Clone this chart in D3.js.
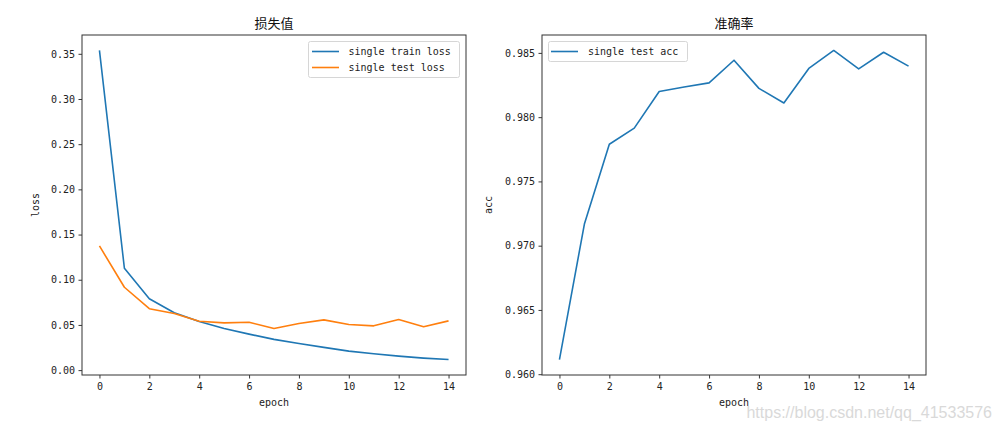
<!DOCTYPE html>
<html><head><meta charset="utf-8">
<script src="https://cdn.jsdelivr.net/npm/d3@7/dist/d3.min.js"></script>
<style>
html,body{margin:0;padding:0;background:#fff;}
svg{display:block;}
</style></head>
<body>
<svg id="chart" width="1002" height="431"></svg>
<script>
const epochs = [0,1,2,3,4,5,6,7,8,9,10,11,12,13,14];
const trainLoss = [0.3537,0.1127,0.0790,0.0635,0.0537,0.0460,0.0398,0.0340,0.0294,0.0252,0.0210,0.0182,0.0155,0.0133,0.0117];
const testLoss = [0.1374,0.0917,0.0680,0.0626,0.0540,0.0523,0.0530,0.0460,0.0515,0.0556,0.0504,0.0490,0.0560,0.0480,0.0545];
const testAcc = [0.96114,0.97168,0.97789,0.97915,0.98200,0.98235,0.98267,0.98443,0.98224,0.98110,0.98379,0.98519,0.98376,0.98505,0.98397];
const xTicks = [0,2,4,6,8,10,12,14];
const lossTicks = [0.00,0.05,0.10,0.15,0.20,0.25,0.30,0.35];
const accTicks = [0.960,0.965,0.970,0.975,0.980,0.985];
const titles = ["损失值","准确率"];
const lossLegend = ["single train loss","single test loss"];
const accLegend = ["single test acc"];
const BLUE = "#1f77b4", ORANGE = "#ff7f0e";

const svg = d3.select("#chart");
const monoFont = "'DejaVu Sans Mono','Liberation Mono',monospace";
const cjkFont = "'Noto Sans CJK SC','Noto Sans',sans-serif";

function pad(ext){ const r = ext[1]-ext[0]; return [ext[0]-0.05*r, ext[1]+0.05*r]; }

function panel(opt){
  const g = svg.append("g");
  const x = d3.scaleLinear().domain(pad([0,14])).range([opt.left, opt.right]);
  const allY = [].concat(...opt.series.map(s=>s.values));
  const y = d3.scaleLinear().domain(pad(d3.extent(allY))).range([opt.bottom, opt.top]);

  // lines
  const clipId = "clip"+opt.id;
  svg.append("clipPath").attr("id",clipId).append("rect")
    .attr("x",opt.left).attr("y",opt.top).attr("width",opt.right-opt.left).attr("height",opt.bottom-opt.top);
  const line = d3.line().x((d,i)=>x(epochs[i])).y(d=>y(d));
  opt.series.forEach(s=>{
    g.append("path").attr("d",line(s.values)).attr("fill","none")
      .attr("stroke",s.color).attr("stroke-width",1.6).attr("stroke-linejoin","round")
      .attr("clip-path",`url(#${clipId})`);
  });

  // axes
  const xAxis = d3.axisBottom(x).tickValues(xTicks).tickSize(3.5).tickPadding(4).tickFormat(d3.format("d"));
  const gx = g.append("g").attr("transform",`translate(0,${opt.bottom})`).call(xAxis);
  const yAxis = d3.axisLeft(y).tickValues(opt.yTicks).tickSize(3.5).tickPadding(3.5).tickFormat(d3.format(opt.fmt));
  const gy = g.append("g").attr("transform",`translate(${opt.left},0)`).call(yAxis);
  [gx,gy].forEach(a=>{
    a.select(".domain").remove();
    a.selectAll(".tick line").attr("stroke","#222").attr("stroke-width",0.9);
    a.selectAll(".tick text").attr("fill","#222").style("font-family",monoFont).style("font-size","10px");
  });

  // frame
  g.append("rect").attr("x",opt.left).attr("y",opt.top)
    .attr("width",opt.right-opt.left).attr("height",opt.bottom-opt.top)
    .attr("fill","none").attr("stroke","#333").attr("stroke-width",1);

  // title
  g.append("text").attr("x",(opt.left+opt.right)/2).attr("y",opt.top-7)
    .attr("text-anchor","middle").style("font-family",cjkFont).style("font-size","13px")
    .attr("fill","#111").text(opt.title);

  // axis labels
  g.append("text").attr("x",(opt.left+opt.right)/2).attr("y",opt.bottom+31)
    .attr("text-anchor","middle").style("font-family",monoFont).style("font-size","10px")
    .attr("fill","#222").text("epoch");
  g.append("text").attr("transform",`translate(${opt.ylabX},${(opt.top+opt.bottom)/2}) rotate(-90)`)
    .attr("text-anchor","middle").style("font-family",monoFont).style("font-size","10px")
    .attr("fill","#222").text(opt.ylabel);

  // legend
  const L = opt.legend;
  const lg = g.append("g");
  lg.append("rect").attr("x",L.x).attr("y",L.y).attr("width",L.w).attr("height",L.h)
    .attr("rx",2).attr("fill","#fff").attr("fill-opacity",0.8).attr("stroke","#d6d6d6").attr("stroke-width",1);
  opt.series.forEach((s,i)=>{
    const cy = L.y + 10 + i*16;
    lg.append("line").attr("x1",L.x+L.hx).attr("x2",L.x+L.hx+27).attr("y1",cy).attr("y2",cy)
      .attr("stroke",s.color).attr("stroke-width",1.6);
    lg.append("text").attr("x",L.x+L.tx).attr("y",cy).attr("dy","0.35em")
      .style("font-family",monoFont).style("font-size","10px").attr("fill","#222").text(s.name);
  });
}

panel({id:1,left:82,right:466,top:35,bottom:375,title:titles[0],ylabel:"loss",ylabX:39,
  yTicks:lossTicks,fmt:".2f",
  series:[{name:lossLegend[0],values:trainLoss,color:BLUE},{name:lossLegend[1],values:testLoss,color:ORANGE}],
  legend:{x:308.5,y:41.5,w:151,h:36,hx:3.5,tx:40}});

panel({id:2,left:542,right:926,top:35,bottom:375,title:titles[1],ylabel:"acc",ylabX:492,
  yTicks:accTicks,fmt:".3f",
  series:[{name:accLegend[0],values:testAcc,color:BLUE}],
  legend:{x:548.5,y:41.5,w:139,h:20,hx:2.5,tx:39.5}});

// watermark
svg.append("text").attr("x",992).attr("y",418).attr("text-anchor","end")
  .style("font-family","'Liberation Sans',Arial,sans-serif").style("font-size","16px")
  .attr("fill","#d9d9d9").text("https://blog.csdn.net/qq_41533576");
</script>
</body></html>
